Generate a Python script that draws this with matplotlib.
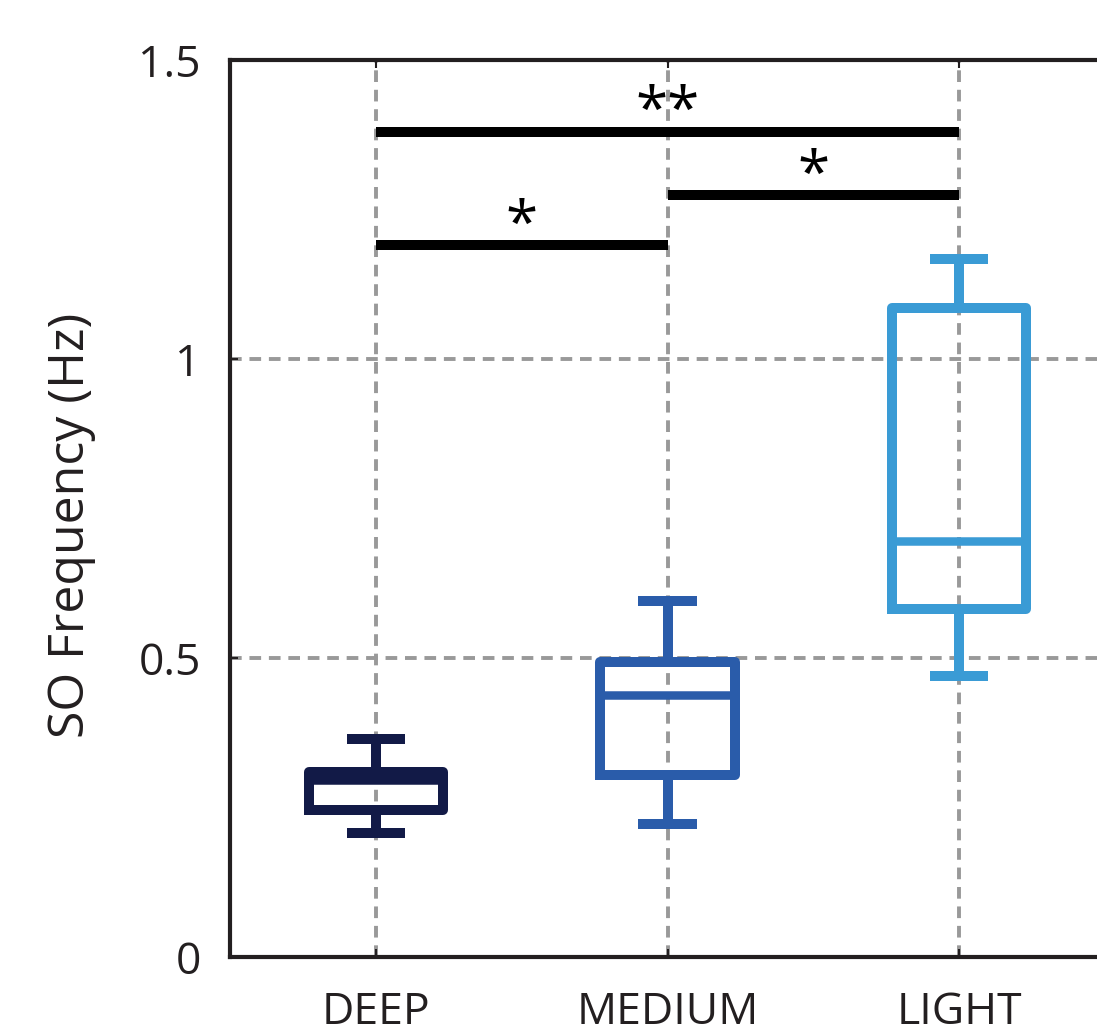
import matplotlib
matplotlib.use("Agg")
import matplotlib.pyplot as plt

categories = ["DEEP", "MEDIUM", "LIGHT"]
whisker_low = [0.207, 0.222, 0.470]
q1 = [0.245, 0.304, 0.582]
median = [0.296, 0.438, 0.696]
q3 = [0.309, 0.493, 1.085]
whisker_high = [0.364, 0.595, 1.167]
colors = ["#121a47", "#2a5caa", "#3a9bd5"]

# significance brackets: (from index, to index, y, label)
sig_pairs = [(0, 1, 1.19, "*"), (1, 2, 1.274, "*"), (0, 2, 1.38, "**")]

yticks = [0, 0.5, 1, 1.5]
ytick_labels = ["0", "0.5", "1", "1.5"]

plt.rcParams['font.family'] = ['Open Sans', 'DejaVu Sans']

fig = plt.figure(figsize=(10.97, 10.25), dpi=100)
ax = fig.add_axes([230/1097, 68/1025, (1105-230)/1097, (957-60)/1025])

positions = list(range(1, len(categories) + 1))
lw = 7.2
for i, pos in enumerate(positions):
    st = [dict(med=median[i], q1=q1[i], q3=q3[i], whislo=whisker_low[i],
               whishi=whisker_high[i], fliers=[])]
    c = colors[i]
    ax.bxp(st, positions=[pos], widths=0.46, showfliers=False,
           boxprops=dict(color=c, linewidth=lw, solid_joinstyle='round'),
           medianprops=dict(color=c, linewidth=lw*0.85, solid_capstyle='butt'),
           whiskerprops=dict(color=c, linewidth=lw, solid_capstyle='butt'),
           capprops=dict(color=c, linewidth=lw, solid_capstyle='butt'),
           capwidths=0.2, zorder=3)

for a, b, y, lab in sig_pairs:
    ax.plot([positions[a], positions[b]], [y, y], color='black', linewidth=7.2,
            solid_capstyle='butt', zorder=4)
    ax.text((positions[a] + positions[b]) / 2, y + 0.03, lab, ha='center',
            va='center', fontsize=42, color='black', zorder=5)

ax.set_xlim(0.5, 3.5)
ax.set_ylim(0, 1.5)
ax.set_xticks(positions)
ax.set_xticklabels(categories)
ax.set_yticks(yticks)
ax.set_yticklabels(ytick_labels)
ax.tick_params(axis='both', direction='in', length=6, width=1.5, labelsize=32,
               top=True, right=True, colors='#231f20')
ax.tick_params(axis='x', pad=24)
ax.tick_params(axis='y', pad=21)
ax.grid(True, color='#999999', linestyle=(0, (3, 2)), linewidth=2.8, zorder=0)
for s in ax.spines.values():
    s.set_linewidth(3)
    s.set_color('#231f20')
ax.set_ylabel("SO Frequency (Hz)", fontsize=36, color='#231f20')
ax.yaxis.set_label_coords(-0.153, 0.4816)

fig.savefig("out.png", dpi=100)
